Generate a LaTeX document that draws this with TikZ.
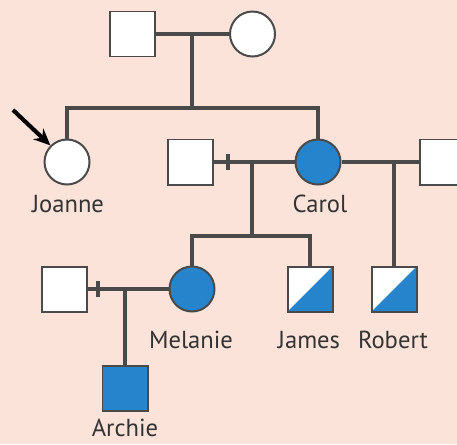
\documentclass[tikz,border=0pt]{standalone}
\usepackage{fontspec}
\setmainfont{PT Sans}
\usetikzlibrary{arrows.meta, positioning, calc}
\definecolor{cbg}{HTML}{FBE3DA}
\definecolor{cblue}{HTML}{2584CC}
\definecolor{cline}{HTML}{4A4A4A}
\definecolor{ctext}{HTML}{333333}
\tikzset{
  every picture/.style={font=\fontsize{21}{25}\selectfont},
  person/.style={draw=cline, line width=1.7pt, minimum size=1.35cm, inner sep=0pt},
  male/.style={person, rectangle, fill=#1},
  male/.default=white,
  female/.style={person, circle, fill=#1},
  female/.default=white,
  carrier/.style={male, path picture={
      \fill[cblue] (path picture bounding box.south west) -- (path picture bounding box.north east)
        -- (path picture bounding box.south east) -- cycle;}},
  line/.style={draw=cline, line width=2.6pt},
  tag/.style={text=ctext, inner sep=0pt},
  proband/.style={-{Stealth[length=5mm, width=4.4mm]}, draw=black, line width=3.5pt},
}
\begin{document}
\begin{tikzpicture}[x=0.03cm, y=-0.03cm]
  \clip (0,0) rectangle (457,444);
  \fill[cbg] (0,0) rectangle (457,444);
  % first generation
  \node[male] (gpa) at (132.5,34) {};
  \node[female] (gma) at (252.5,34) {};
  \coordinate (u1) at (192,34);
  \coordinate (s1) at (192,108);
  \draw[line] (gpa) -- (gma);
  \draw[line] (u1) -- (s1);
  % second generation
  \node[female] (joanne) at (67,162) {};
  \node[male] (h1) at (190.5,162) {};
  \node[female=cblue] (carol) at (318,162) {};
  \node[male] (h2) at (442.5,162) {};
  \draw[line] (joanne.north) |- (s1) -| (carol.north);
  \draw[line] (h1) -- (carol);
  \draw[line] ($(h1.east)+(14,-8)$) -- ($(h1.east)+(14,8)$);
  \draw[line] (carol) -- (h2);
  \coordinate (u2) at (252,162);
  \coordinate (s2) at (252,236);
  \coordinate (u3) at (394,162);
  \draw[line] (u2) -- (s2);
  \coordinate (arr) at (13,110);
  \draw[proband] (arr) -- (joanne.north west);
  % third generation
  \node[male] (h3) at (64.5,289) {};
  \node[female=cblue] (melanie) at (192,289) {};
  \node[carrier] (james) at (310,289) {};
  \node[carrier] (robert) at (394,289) {};
  \draw[line] (melanie.north) |- (s2) -| (james.north);
  \draw[line] (u3) -- (robert.north);
  \draw[line] (h3) -- (melanie);
  \draw[line] ($(h3.east)+(10,-8)$) -- ($(h3.east)+(10,8)$);
  \coordinate (u4) at (125,289);
  % fourth generation
  \node[male=cblue] (archie) at (125,388.5) {};
  \draw[line] (u4) -- (archie.north);
  % names
  \node[tag] (tjoanne) at (68,204) {Joanne};
  \node[tag] (tcarol) at (320,204) {Carol};
  \node[tag] (tmelanie) at (191,340) {Melanie};
  \node[tag] (tjames) at (309,340) {James};
  \node[tag] (trobert) at (393,340) {Robert};
  \node[tag] (tarchie) at (125,428) {Archie};
\end{tikzpicture}
\end{document}
